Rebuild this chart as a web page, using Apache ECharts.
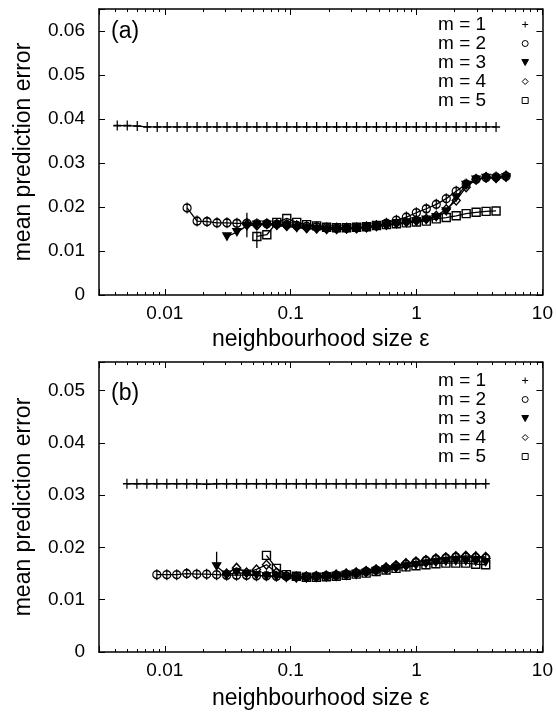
<!DOCTYPE html>
<html>
<head>
<meta charset="utf-8">
<script src="https://cdn.jsdelivr.net/npm/echarts@6/dist/echarts.min.js"></script>
<style>
  html, body { margin: 0; padding: 0; background: #fff; }
  #chart { width: 556px; height: 720px; }
</style>
</head>
<body>
<div id="chart"></div>
<script>
// ---- tick labels ----
const xTickLabels = { '-2': '0.01', '-1': '0.1', '0': '1', '1': '10' };
const yTickLabels = ['0', '0.01', '0.02', '0.03', '0.04', '0.05', '0.06'];
const minorTickValues = [0.003, 0.004, 0.005, 0.006, 0.007, 0.008, 0.009,
  0.02, 0.03, 0.04, 0.05, 0.06, 0.07, 0.08, 0.09,
  0.2, 0.3, 0.4, 0.5, 0.6, 0.7, 0.8, 0.9,
  2, 3, 4, 5, 6, 7, 8, 9];
const seriesNames = ['m = 1', 'm = 2', 'm = 3', 'm = 4', 'm = 5'];

// ---- panel (a): neighbourhood sizes and mean prediction errors ----
const epsA = [0.00419, 0.00503, 0.00604, 0.00725, 0.0087, 0.01044, 0.01252, 0.01503, 0.01804, 0.02164,
  0.02597, 0.03117, 0.0374, 0.04488, 0.05386, 0.06463, 0.07755, 0.09306, 0.1117, 0.134,
  0.1608, 0.193, 0.2316, 0.2779, 0.3335, 0.4002, 0.4802, 0.5762, 0.6915, 0.8298,
  0.9957, 1.195, 1.434, 1.721, 2.065, 2.478, 2.973, 3.568, 4.282, 5.138];
const errA_m1 = [0.0385, 0.0385, 0.0384, 0.0382, 0.0382, 0.0382, 0.0382, 0.0382, 0.0382, 0.0382,
  0.0382, 0.0382, 0.0382, 0.0382, 0.0382, 0.0382, 0.0382, 0.0382, 0.0382, 0.0382,
  0.0382, 0.0382, 0.0382, 0.0382, 0.0382, 0.0382, 0.0382, 0.0382, 0.0382, 0.0382,
  0.0382, 0.0382, 0.0382, 0.0382, 0.0382, 0.0382, 0.0382, 0.0382, 0.0382, null];
const errA_m2 = [null, null, null, null, null, null, null, 0.0198, 0.0168, 0.0167,
  0.0164, 0.0164, 0.0163, 0.0163, 0.0162, 0.0162, 0.0161, 0.016, 0.0158, 0.0156,
  0.0155, 0.0153, 0.0152, 0.0152, 0.0153, 0.0155, 0.0158, 0.0163, 0.017, 0.0177,
  0.0187, 0.0196, 0.0206, 0.0219, 0.0236, 0.0252, 0.0263, 0.0267, 0.0268, 0.027];
const errA_m3 = [null, null, null, null, null, null, null, null, null, null,
  null, 0.0133, 0.0143, 0.0157, 0.016, 0.016, 0.0158, 0.0156, 0.0153, 0.0151,
  0.015, 0.0149, 0.0149, 0.015, 0.0151, 0.0153, 0.0155, 0.0158, 0.0161, 0.0164,
  0.0167, 0.0171, 0.0177, 0.019, 0.0222, 0.025, 0.0262, 0.0266, 0.0265, 0.0267];
const errA_m4 = [null, null, null, null, null, null, null, null, null, null,
  null, null, null, 0.016, 0.0158, 0.0162, 0.016, 0.0157, 0.0155, 0.0152,
  0.0151, 0.015, 0.015, 0.0151, 0.0152, 0.0154, 0.0157, 0.016, 0.0163, 0.0166,
  0.0169, 0.0173, 0.018, 0.0195, 0.0215, 0.0245, 0.0263, 0.0268, 0.0266, 0.0271];
const errA_m5 = [null, null, null, null, null, null, null, null, null, null,
  null, null, null, null, 0.0133, 0.0137, 0.0165, 0.0174, 0.0165, 0.016,
  0.0157, 0.0154, 0.0153, 0.0153, 0.0154, 0.0155, 0.0158, 0.016, 0.0162, 0.0164,
  0.0166, 0.0168, 0.0173, 0.0176, 0.018, 0.0185, 0.0188, 0.019, 0.0191, null];
// spread of the first estimates: [eps, low, high]
const barsA = [[0.04488, 0.0131, 0.0187], [0.05386, 0.0107, 0.0145]];

// ---- panel (b) ----
const epsB = [0.005, 0.006, 0.0072, 0.00864, 0.01037, 0.01244, 0.01493, 0.01792, 0.0215, 0.0258,
  0.03096, 0.03715, 0.04458, 0.0535, 0.0642, 0.07704, 0.09244, 0.1109, 0.1331, 0.1597,
  0.1917, 0.23, 0.276, 0.3313, 0.3975, 0.477, 0.5724, 0.6869, 0.8243, 0.9891,
  1.187, 1.424, 1.709, 2.051, 2.461, 2.953, 3.544];
const errB_m1 = [0.0322, 0.0322, 0.0322, 0.0322, 0.0322, 0.0322, 0.0322, 0.0322, 0.0321, 0.0322,
  0.0322, 0.0322, 0.0322, 0.0322, 0.0322, 0.0322, 0.0322, 0.0322, 0.0322, 0.0322,
  0.0322, 0.0322, 0.0322, 0.0322, 0.0322, 0.0322, 0.0322, 0.0322, 0.0322, 0.0322,
  0.0322, 0.0322, 0.0322, 0.0322, 0.0322, 0.0322, 0.0322];
const errB_m2 = [null, null, null, 0.0148, 0.0148, 0.0148, 0.015, 0.0149, 0.0149, 0.0148,
  0.0147, 0.0147, 0.0147, 0.0146, 0.0146, 0.0145, 0.0145, 0.0144, 0.0144, 0.0145,
  0.0146, 0.0147, 0.0149, 0.0151, 0.0154, 0.0157, 0.016, 0.0164, 0.0168, 0.0172,
  0.0175, 0.0178, 0.018, 0.0182, 0.0182, 0.0181, 0.018];
const errB_m3 = [null, null, null, null, null, null, null, null, null, 0.0164,
  0.0148, 0.0152, 0.015, 0.0147, 0.0145, 0.0144, 0.0142, 0.0141, 0.0141, 0.0142,
  0.0143, 0.0144, 0.0146, 0.0148, 0.0151, 0.0154, 0.0157, 0.016, 0.0163, 0.0166,
  0.0169, 0.0171, 0.0173, 0.0174, 0.0174, 0.0173, 0.0172];
const errB_m4 = [null, null, null, null, null, null, null, null, null, null,
  0.015, 0.0161, 0.0152, 0.0158, 0.0167, 0.0152, 0.0146, 0.0144, 0.0144, 0.0145,
  0.0146, 0.0148, 0.015, 0.0152, 0.0155, 0.0158, 0.0162, 0.0166, 0.017, 0.0173,
  0.0176, 0.0179, 0.0181, 0.0183, 0.0184, 0.0183, 0.0182];
const errB_m5 = [null, null, null, null, null, null, null, null, null, null,
  null, null, null, null, 0.0185, 0.016, 0.0148, 0.0145, 0.0143, 0.0143,
  0.0144, 0.0145, 0.0147, 0.0149, 0.0151, 0.0154, 0.0157, 0.016, 0.0163, 0.0165,
  0.0167, 0.0169, 0.017, 0.017, 0.017, 0.0168, 0.0167];
const barsB = [[0.0258, 0.0164, 0.0192]];

// ---- drawing ----
const FONT = "'Liberation Sans', Arial, Helvetica, sans-serif";
const INK = '#000';
const X_MIN = 0.003, X_MAX = 10;

const PLUS = 'path://M5,0V10M0,5H10';
const TRI_DOWN = 'path://M0,0H10L5,9Z';
const DIAMOND = 'path://M5,0L10,5L5,10L0,5Z';
const SQUARE = 'path://M0,0H10V10H0Z';
const markers = [
  { symbol: PLUS, size: [8, 10], fill: INK, legendIcon: PLUS },
  { symbol: 'path://M5,-2V12M10,5A5,5,0,1,1,0,5A5,5,0,1,1,10,5Z', size: [8, 11], fill: 'transparent', legendIcon: 'circle' },
  { symbol: TRI_DOWN, size: [8, 7], fill: INK, legendIcon: TRI_DOWN },
  { symbol: DIAMOND, size: [8, 9], fill: 'transparent', legendIcon: DIAMOND },
  { symbol: SQUARE, size: [8, 8], fill: 'transparent', legendIcon: SQUARE }
];

function pairs(xs, ys) {
  const out = [];
  ys.forEach((y, i) => { if (y !== null) out.push([xs[i], y]); });
  return out;
}

function curveSeries(name, k, xs, ys, axisIdx) {
  const m = markers[k];
  return {
    type: 'line', name, xAxisIndex: axisIdx, yAxisIndex: axisIdx,
    data: pairs(xs, ys),
    symbol: m.symbol, symbolSize: m.size, showSymbol: true,
    itemStyle: { color: m.fill, borderColor: INK, borderWidth: 1.4 },
    lineStyle: { color: INK, width: 1.3 },
    emphasis: { disabled: true }, silent: true, z: 2
  };
}

function barSeries(bar, axisIdx) {
  return {
    type: 'line', xAxisIndex: axisIdx, yAxisIndex: axisIdx,
    data: [[bar[0], bar[1]], [bar[0], bar[2]]],
    symbol: 'none', lineStyle: { color: INK, width: 1.3 },
    emphasis: { disabled: true }, silent: true, z: 2
  };
}

function minorTickSeries(axisIdx) {
  return {
    type: 'custom', xAxisIndex: axisIdx, yAxisIndex: axisIdx, silent: true, z: 3,
    data: minorTickValues.filter(v => v > X_MIN && v < X_MAX).map(v => [v, 0]),
    renderItem(params, api) {
      const cs = params.coordSys;
      const x = Math.round(api.coord([api.value(0), 0])[0]) + 0.5;
      const yb = cs.y + cs.height, yt = cs.y;
      return {
        type: 'group', children: [
          { type: 'line', shape: { x1: x, y1: yb, x2: x, y2: yb - 3 }, style: { stroke: INK, lineWidth: 1 } },
          { type: 'line', shape: { x1: x, y1: yt, x2: x, y2: yt + 3 }, style: { stroke: INK, lineWidth: 1 } }
        ]
      };
    }
  };
}

function fmtX(v) {
  const l = Math.log10(v), e = Math.round(l);
  return Math.abs(l - e) < 1e-6 && xTickLabels[e] !== undefined ? xTickLabels[e] : '';
}
function fmtY(v) {
  const q = v / 0.01, i = Math.round(q);
  return Math.abs(q - i) < 1e-6 && yTickLabels[i] !== undefined ? yTickLabels[i] : '';
}

const frameLine = { show: true, onZero: false, lineStyle: { color: INK, width: 1.5 } };
const majorTick = { show: true, inside: true, length: 6, lineStyle: { color: INK, width: 1 } };

function xAxes(gridIndex, nameGap) {
  return [
    {
      type: 'log', logBase: 10, gridIndex, min: X_MIN, max: X_MAX, splitNumber: 4, position: 'bottom',
      axisLine: frameLine, axisTick: majorTick, splitLine: { show: false }, minorTick: { show: false },
      axisLabel: { margin: 9, fontSize: 19, color: INK, fontFamily: FONT, formatter: fmtX },
      name: 'neighbourhood size ε', nameLocation: 'middle', nameGap,
      nameTextStyle: { fontSize: 23, color: INK, fontFamily: FONT }
    },
    {
      type: 'log', logBase: 10, gridIndex, min: X_MIN, max: X_MAX, splitNumber: 4, position: 'top',
      axisLine: frameLine, axisTick: majorTick, splitLine: { show: false }, minorTick: { show: false },
      axisLabel: { show: false }
    }
  ];
}

function yAxes(gridIndex, yMax) {
  return [
    {
      type: 'value', gridIndex, min: 0, max: yMax, interval: 0.01, position: 'left',
      axisLine: frameLine, axisTick: majorTick, splitLine: { show: false },
      axisLabel: { margin: 14, fontSize: 19, color: INK, fontFamily: FONT, formatter: fmtY },
      name: 'mean prediction error', nameLocation: 'middle', nameGap: 64, nameRotate: 90,
      nameTextStyle: { fontSize: 23, color: INK, fontFamily: FONT }
    },
    {
      type: 'value', gridIndex, min: 0, max: yMax, interval: 0.01, position: 'right',
      axisLine: frameLine, axisTick: majorTick, splitLine: { show: false },
      axisLabel: { show: false }
    }
  ];
}

function legendFor(top) {
  return {
    orient: 'vertical', align: 'right', right: 27, top, padding: 0, itemGap: 0,
    itemWidth: 68, itemHeight: 6, selectedMode: false, symbolKeepAspect: true,
    textStyle: { fontSize: 19, color: INK, fontFamily: FONT },
    data: seriesNames.map((n, i) => ({
      name: n, icon: markers[i].legendIcon,
      itemStyle: { color: markers[i].fill, borderColor: INK, borderWidth: 1 }
    }))
  };
}

const series = [];
[errA_m1, errA_m2, errA_m3, errA_m4, errA_m5].forEach((ys, k) => series.push(curveSeries(seriesNames[k], k, epsA, ys, 0)));
barsA.forEach(b => series.push(barSeries(b, 0)));
series.push(minorTickSeries(0));
[errB_m1, errB_m2, errB_m3, errB_m4, errB_m5].forEach((ys, k) => series.push(curveSeries(seriesNames[k], k, epsB, ys, 2)));
barsB.forEach(b => series.push(barSeries(b, 2)));
series.push(minorTickSeries(2));

const chart = echarts.init(document.getElementById('chart'), null, { renderer: 'canvas' });
chart.setOption({
  animation: false,
  backgroundColor: '#fff',
  title: [
    { text: '(a)', left: 111, top: 20, padding: 0, textStyle: { fontSize: 23, fontWeight: 'normal', color: INK, fontFamily: FONT } },
    { text: '(b)', left: 111, top: 382, padding: 0, textStyle: { fontSize: 23, fontWeight: 'normal', color: INK, fontFamily: FONT } }
  ],
  legend: [legendFor(15), legendFor(371)],
  grid: [
    { left: 99, right: 12, top: 9, height: 286 },
    { left: 99, right: 12, top: 362, height: 290 }
  ],
  xAxis: [...xAxes(0, 33), ...xAxes(1, 35)],
  yAxis: [...yAxes(0, 0.065), ...yAxes(1, 0.0555)],
  series
});
</script>
</body>
</html>
